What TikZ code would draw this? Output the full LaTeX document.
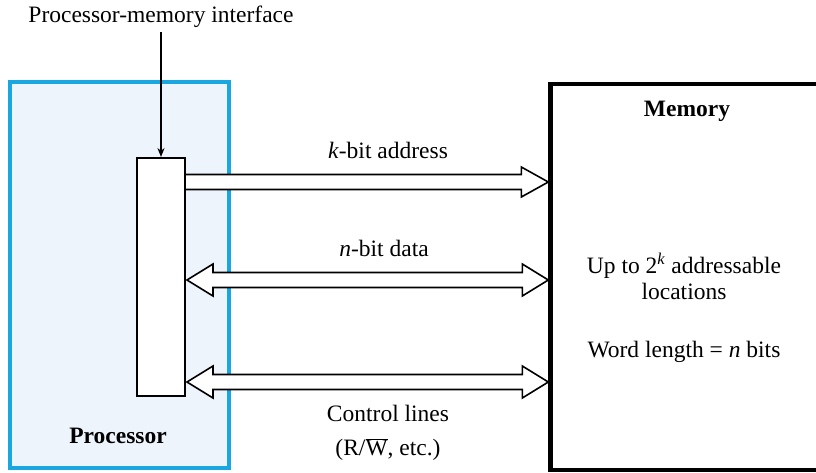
\documentclass[tikz,border=0pt]{standalone}
\usepackage{fontspec}
\setmainfont{Liberation Serif}
\usetikzlibrary{calc,arrows.meta}
\definecolor{procblue}{HTML}{1AA7E0}
\definecolor{procfill}{HTML}{EEF4FB}
\tikzset{
  lbl/.style={font=\fontsize{23.5}{26}\selectfont, inner sep=0pt, align=center},
  bold/.style={lbl, font=\fontsize{23.5}{26}\selectfont\bfseries},
  fat/.style={draw=black, line width=1.6pt, fill=white, line join=miter},
}
\begin{document}
\begin{tikzpicture}[x=1pt,y=-1pt]
\useasboundingbox (0,0) rectangle (816,472);
\clip (0,0) rectangle (816,472);
% boxes
\node[draw=procblue, line width=4pt, fill=procfill, minimum width=219pt, minimum height=386pt, inner sep=0pt, outer sep=0pt] (proc) at (119.5,275) {};
\node[draw=black, line width=4.5pt, fill=white, minimum width=300pt, minimum height=386pt, inner sep=0pt, outer sep=0pt, anchor=north west] (mem) at (550.5,84) {};
\node[draw=black, line width=2pt, fill=white, minimum width=48pt, minimum height=238pt, inner sep=0pt] (iface) at (161,277) {};
% labels
\node[lbl] (title) at (161,17) {Processor-memory interface};
\node[bold] (proclbl) at (118,436) {Processor};
\node[bold] (memlbl) at (687,111) {Memory};
\node[lbl] (addr) at (388,150) {\textit{k}-bit address};
\node[lbl] (data) at (384,248) {\textit{n}-bit data};
\node[lbl] (ctrl) at (388,433) {Control lines\\[8pt](R/$\overline{\mbox{W}}$, etc.)};
\node[lbl] (loc) at (684,276) {Up to 2\textsuperscript{\textit{k}} addressable\\locations};
\node[lbl] (word) at (684,352) {Word length = \textit{n} bits};
% interface pointer
\coordinate (ptop) at (161,32);
\draw[line width=2pt, -{Stealth[length=9pt,width=7pt]}] (ptop) -- (iface.north);
% address arrow (single)
\coordinate (as) at (iface.east |- 0,182);
\coordinate (at) at ($(mem.west |- 0,182)+(-2.2,0)$);
\draw[fat] ($(as)+(0,-7.5)$) -- ($(at)+(-27,-7.5)$) -- ($(at)+(-27,-15)$) -- (at) -- ($(at)+(-27,15)$) -- ($(at)+(-27,7.5)$) -- ($(as)+(0,7.5)$);
% data arrow (double)
\coordinate (ds) at ($(iface.east |- 0,280)+(1,0)$);
\coordinate (dt) at ($(mem.west |- 0,280)+(-2.2,0)$);
\draw[fat] (ds) -- ($(ds)+(26,-16)$) -- ($(ds)+(26,-7.5)$) -- ($(dt)+(-26,-7.5)$) -- ($(dt)+(-26,-16)$) -- (dt) -- ($(dt)+(-26,16)$) -- ($(dt)+(-26,7.5)$) -- ($(ds)+(26,7.5)$) -- ($(ds)+(26,16)$) -- cycle;
% control arrow (double)
\coordinate (cs) at ($(iface.east |- 0,382)+(1,0)$);
\coordinate (ct) at ($(mem.west |- 0,382)+(-2.2,0)$);
\draw[fat] (cs) -- ($(cs)+(26,-16)$) -- ($(cs)+(26,-7.5)$) -- ($(ct)+(-26,-7.5)$) -- ($(ct)+(-26,-16)$) -- (ct) -- ($(ct)+(-26,16)$) -- ($(ct)+(-26,7.5)$) -- ($(cs)+(26,7.5)$) -- ($(cs)+(26,16)$) -- cycle;
\end{tikzpicture}
\end{document}
